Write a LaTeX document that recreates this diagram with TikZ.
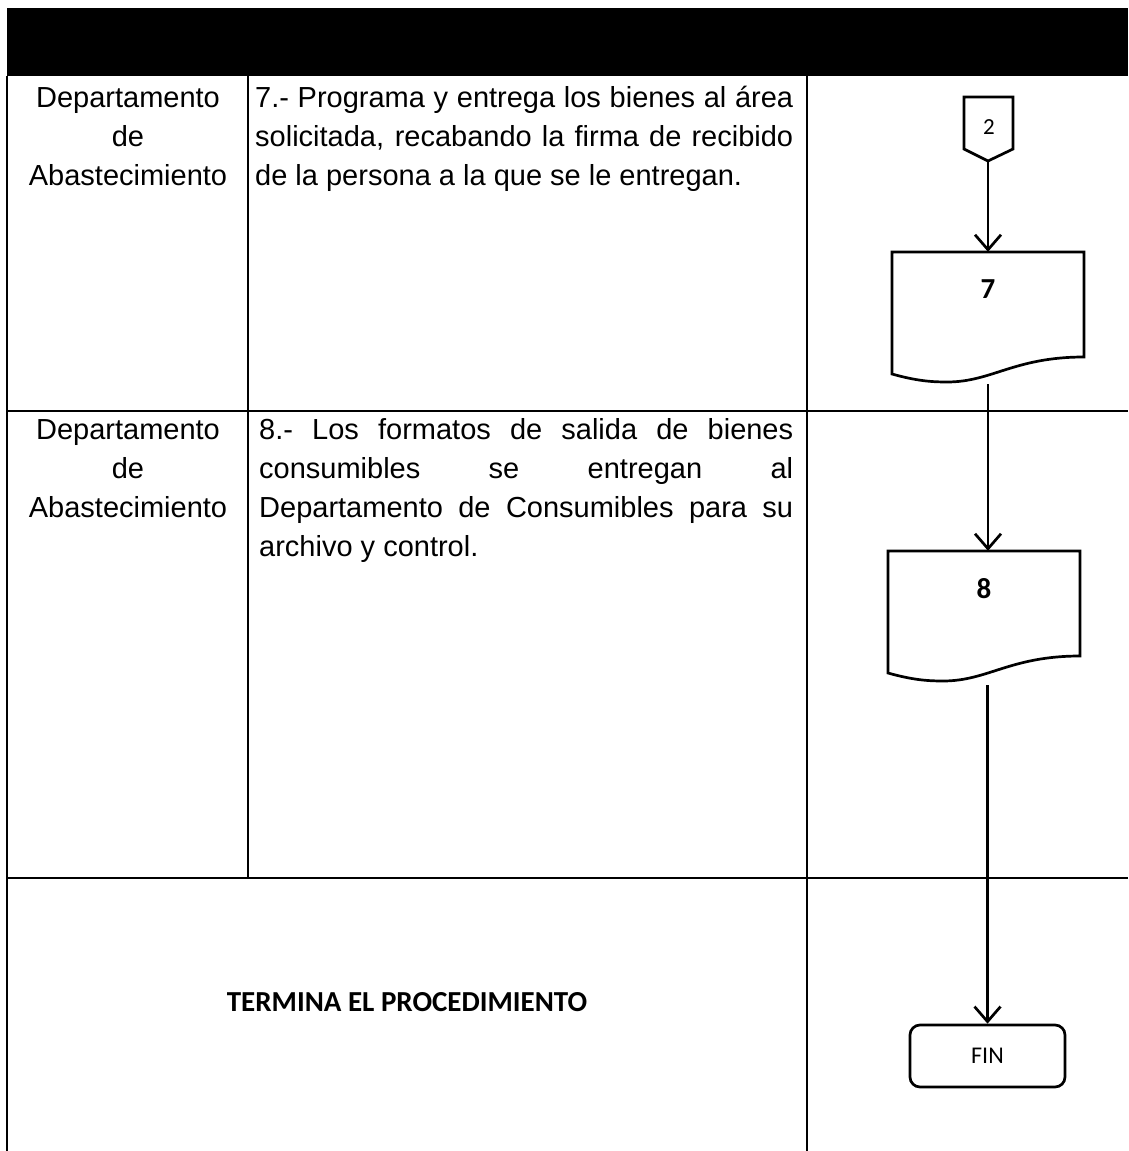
\documentclass[tikz,border=0pt]{standalone}
\usepackage{fontspec}
\setmainfont{Liberation Sans}
\newfontfamily\calfont{Carlito}
\usetikzlibrary{arrows.meta}
\begin{document}
\begin{tikzpicture}[x=1pt,y=-1pt,
  tbl/.style={line width=1.5pt},
  flow/.style={line width=2.7pt, line join=miter},
  arr/.style={flow,-{Straight Barb[length=15pt,width=26pt,line width=2.7pt]}},
  cell/.style={font=\fontsize{29}{39}\selectfont, inner sep=0pt, anchor=base},
  cellw/.style={cell, anchor=base west},
  anchorbox/.style={draw=none, inner sep=0pt, minimum width=192pt, minimum height=130pt},
  num/.style={font=\calfont\fontsize{23}{25}\selectfont, inner sep=0pt},
  numb/.style={font=\calfont\bfseries\fontsize{29}{31}\selectfont, inner sep=0pt},
]
\useasboundingbox (0,0) rectangle (1128,1151);

% header and table grid
\fill[black] (7,8) rectangle (1128,76);
\draw[tbl] (7,76) -- (7,1151);
\draw[tbl] (248,76) -- (248,878);
\draw[tbl] (807,76) -- (807,1151);
\draw[tbl] (7,411) -- (1128,411);
\draw[tbl] (7,878) -- (1128,878);

% row 1 texts
\node[cell] (r1a) at (128,107) {Departamento};
\node[cell] (r1b) at (128,146) {de};
\node[cell] (r1c) at (128,185) {Abastecimiento};
\node[cellw] (m1a) at (255,107) {\makebox[538pt][s]{7.- Programa y entrega los bienes al área}};
\node[cellw] (m1b) at (255,146) {\makebox[538pt][s]{solicitada, recabando la firma de recibido}};
\node[cellw] (m1c) at (255,185) {de la persona a la que se le entregan.};

% row 2 texts
\node[cell] (r2a) at (128,439) {Departamento};
\node[cell] (r2b) at (128,478) {de};
\node[cell] (r2c) at (128,517) {Abastecimiento};
\node[cellw] (m2a) at (259,439) {\makebox[534pt][s]{8.- Los formatos de salida de bienes}};
\node[cellw] (m2b) at (259,478) {\makebox[534pt][s]{consumibles se entregan al}};
\node[cellw] (m2c) at (259,517) {\makebox[534pt][s]{Departamento de Consumibles para su}};
\node[cellw] (m2d) at (259,556) {archivo y control.};

% row 3 text
\node[font=\calfont\bfseries\fontsize{29}{31}\selectfont, inner sep=0pt] (term) at (407,1002) {TERMINA EL PROCEDIMIENTO};

% off-page connector 2
\coordinate (c2tip) at (988,161);
\draw[flow] (964,97) -- (1013,97) -- (1013,149) -- (c2tip) -- (964,149) -- cycle;
\node[num] (c2) at (989,127) {2};

% document 7
\node[anchorbox] (d7) at (988,317) {};
\draw[flow] (892,374) -- (892,252) -- (1084,252) -- (1084,357)
  .. controls (1014,357) and (992,382) .. (947,382)
  .. controls (932,382) and (917,381) .. (892,374) -- cycle;
\node[numb] (t7) at (988,289) {7};

% document 8
\node[anchorbox] (d8) at (984,616) {};
\draw[flow] (888,673) -- (888,551) -- (1080,551) -- (1080,656)
  .. controls (1010,656) and (988,681) .. (943,681)
  .. controls (928,681) and (913,680) .. (888,673) -- cycle;
\node[numb] (t8) at (984,589) {8};

% terminator
\node[draw, flow, rounded corners=10pt, minimum width=155pt, minimum height=62pt,
      font=\calfont\fontsize{24}{26}\selectfont] (fin) at (987.5,1056) {FIN};

% connectors
\draw[arr] (c2tip) -- (c2tip |- d7.north);
\draw[arr, shorten <=2pt] (d7.south) -- (d7.south |- d8.north);
\draw[arr, shorten <=4pt] (fin.north |- d8.south) -- (fin.north);
\end{tikzpicture}
\end{document}
